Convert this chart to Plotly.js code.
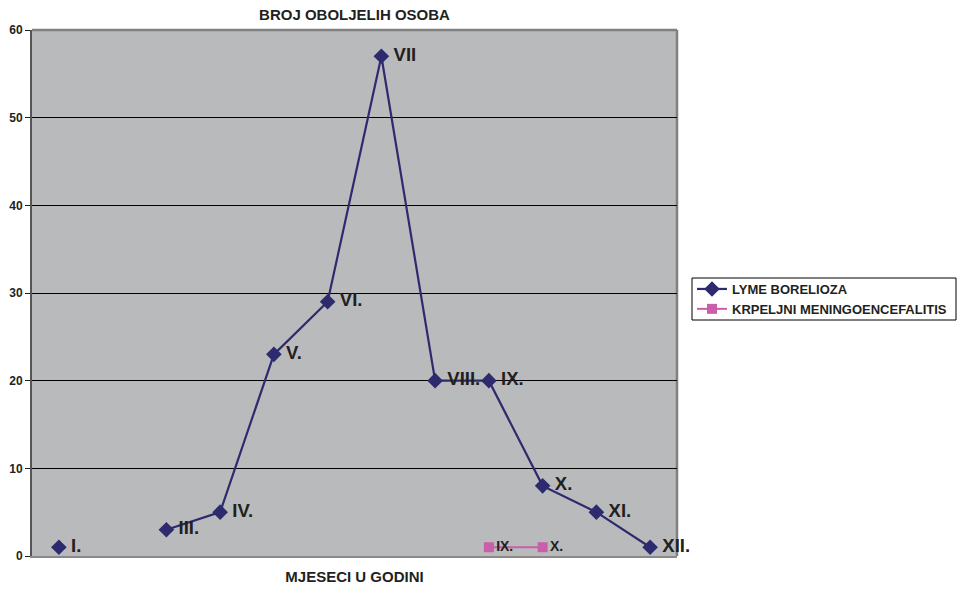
<!DOCTYPE html>
<html>
<head>
<meta charset="utf-8">
<script src="https://cdn.plot.ly/plotly-3.0.1.min.js"></script>
<style>html,body{margin:0;padding:0;background:#fff;}#chart{width:957px;height:591px;}</style>
</head>
<body>
<div id="chart"></div>
<script>
const months = ["I","II","III","IV","V","VI","VII","VIII","IX","X","XI","XII"];
const lymeValues = [1, null, 3, 5, 23, 29, 57, 20, 20, 8, 5, 1];
const lymeLabels = ["I.", "", "III.", "IV.", "V.", "VI.", "VII", "VIII.", "IX.", "X.", "XI.", "XII."];
const kmeMonths = ["IX","X"];
const kmeValues = [1, 1];
const kmeLabels = ["IX.", "X."];
const yTicks = [0, 10, 20, 30, 40, 50, 60];

const FONT = "Liberation Sans, Arial, sans-serif";

const traces = [
  {
    name: "LYME BORELIOZA",
    x: months, y: lymeValues, text: lymeLabels.map(t => t ? "\u2009" + t : t),
    type: "scatter", mode: "lines+markers+text",
    connectgaps: false,
    textposition: "middle right",
    textfont: {family: FONT, size: 18.5, color: "#231f20", weight: "bold"},
    line: {color: "#2e2a6e", width: 2.2},
    marker: {symbol: "diamond", size: 12, color: "#2e2a6e"},
    cliponaxis: false
  },
  {
    name: "KRPELJNI MENINGOENCEFALITIS",
    x: kmeMonths, y: kmeValues, text: kmeLabels,
    type: "scatter", mode: "lines+markers+text",
    textposition: "middle right",
    textfont: {family: FONT, size: 14, color: "#231f20", weight: "bold"},
    line: {color: "#c95fa8", width: 2},
    marker: {symbol: "square", size: 10, color: "#c95fa8"},
    cliponaxis: false
  }
];

const layout = {
  width: 957, height: 591,
  margin: {l: 32, r: 280, t: 30, b: 35, autoexpand: false},
  paper_bgcolor: "#ffffff",
  plot_bgcolor: "#b9babc",
  font: {family: FONT, color: "#231f20"},
  showlegend: true,
  title: {
    text: "BROJ OBOLJELIH OSOBA",
    font: {family: FONT, size: 15, weight: "bold", color: "#231f20"},
    x: 0.5, xref: "paper", xanchor: "center",
    y: 1 - 15/591, yref: "container", yanchor: "middle"
  },
  xaxis: {
    type: "category",
    categoryorder: "array", categoryarray: months,
    range: [-0.5, 11.5],
    showticklabels: false,
    ticks: "",
    showgrid: false,
    zeroline: false,
    showline: true, linecolor: "#8a8a8a", linewidth: 2,
    title: {text: "MJESECI U GODINI", font: {family: FONT, size: 15, weight: "bold", color: "#231f20"}, standoff: 14}
  },
  yaxis: {
    range: [0, 60],
    tickvals: yTicks,
    ticktext: yTicks.map(String),
    ticks: "outside", ticklen: 5, tickcolor: "#231f20", tickwidth: 1,
    tickfont: {family: FONT, size: 12, weight: "bold", color: "#231f20"},
    showgrid: true, gridcolor: "#000000", gridwidth: 1,
    zeroline: false,
    showline: true, linecolor: "#555555", linewidth: 2
  },
  legend: {
    xref: "container", yref: "container",
    x: 692/957, xanchor: "left",
    y: 1 - 299/591, yanchor: "middle",
    bgcolor: "rgba(0,0,0,0)",
    borderwidth: 0,
    font: {family: FONT, size: 13, weight: "bold", color: "#231f20"},
    itemwidth: 30,
    tracegroupgap: 0
  },
  shapes: [
    {type: "line", xref: "paper", yref: "paper", x0: 0, x1: 1, y0: 1, y1: 1, layer: "below", line: {color: "#808080", width: 2.5}},
    {type: "line", xref: "paper", yref: "paper", x0: 1, x1: 1, y0: 0, y1: 1, layer: "below", line: {color: "#808080", width: 2.5}},
    {type: "rect", xref: "paper", yref: "paper", x0: (692-32)/645, x1: (956-32)/645, y0: (556-320)/526, y1: (556-278)/526,
     line: {color: "#000000", width: 1}, fillcolor: "rgba(0,0,0,0)", layer: "above"}
  ]
};

Plotly.newPlot("chart", traces, layout, {displayModeBar: false, staticPlot: true});
</script>
</body>
</html>
